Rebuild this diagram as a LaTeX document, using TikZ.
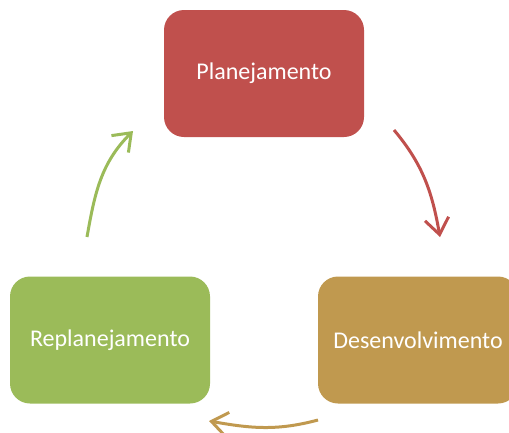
\documentclass[tikz,border=0pt]{standalone}
\usepackage{fontspec}
\setmainfont{Carlito}
\usetikzlibrary{arrows.meta}
\definecolor{cred}{HTML}{C0504D}
\definecolor{cgold}{HTML}{C0994F}
\definecolor{cgreen}{HTML}{9BBB59}
\tikzset{
  box/.style={rounded corners=20pt, minimum width=200pt, minimum height=127pt, inner sep=0pt, text=white, font=\fontsize{24}{28}\selectfont},
  cyc/.style={line width=3pt, -{Straight Barb[length=16pt,width=24pt,line width=3pt]}}
}
\begin{document}
\begin{tikzpicture}[x=1pt,y=-1pt]
\useasboundingbox (0,0) rectangle (509,432);
\clip (0,0) rectangle (509,432);
\node[box, fill=cred] (plan) at (264,73.5) {Planejamento};
\node[box, fill=cgold] (dev) at (418,340) {Desenvolvimento};
\node[box, fill=cgreen] (rep) at (110,340) {Replanejamento};
\coordinate (r1) at (394,130); \coordinate (r2) at (440,237);
\coordinate (g1) at (318,420); \coordinate (g2) at (209,421);
\coordinate (e1) at (87,237); \coordinate (e2) at (133,131);
\draw[cyc, draw=cred] (r1) to[out=-50,in=100] (r2);
\draw[cyc, draw=cgold] (g1) to[out=195,in=-10] (g2);
\draw[cyc, draw=cgreen] (e1) to[out=80,in=225] (e2);
\end{tikzpicture}
\end{document}
